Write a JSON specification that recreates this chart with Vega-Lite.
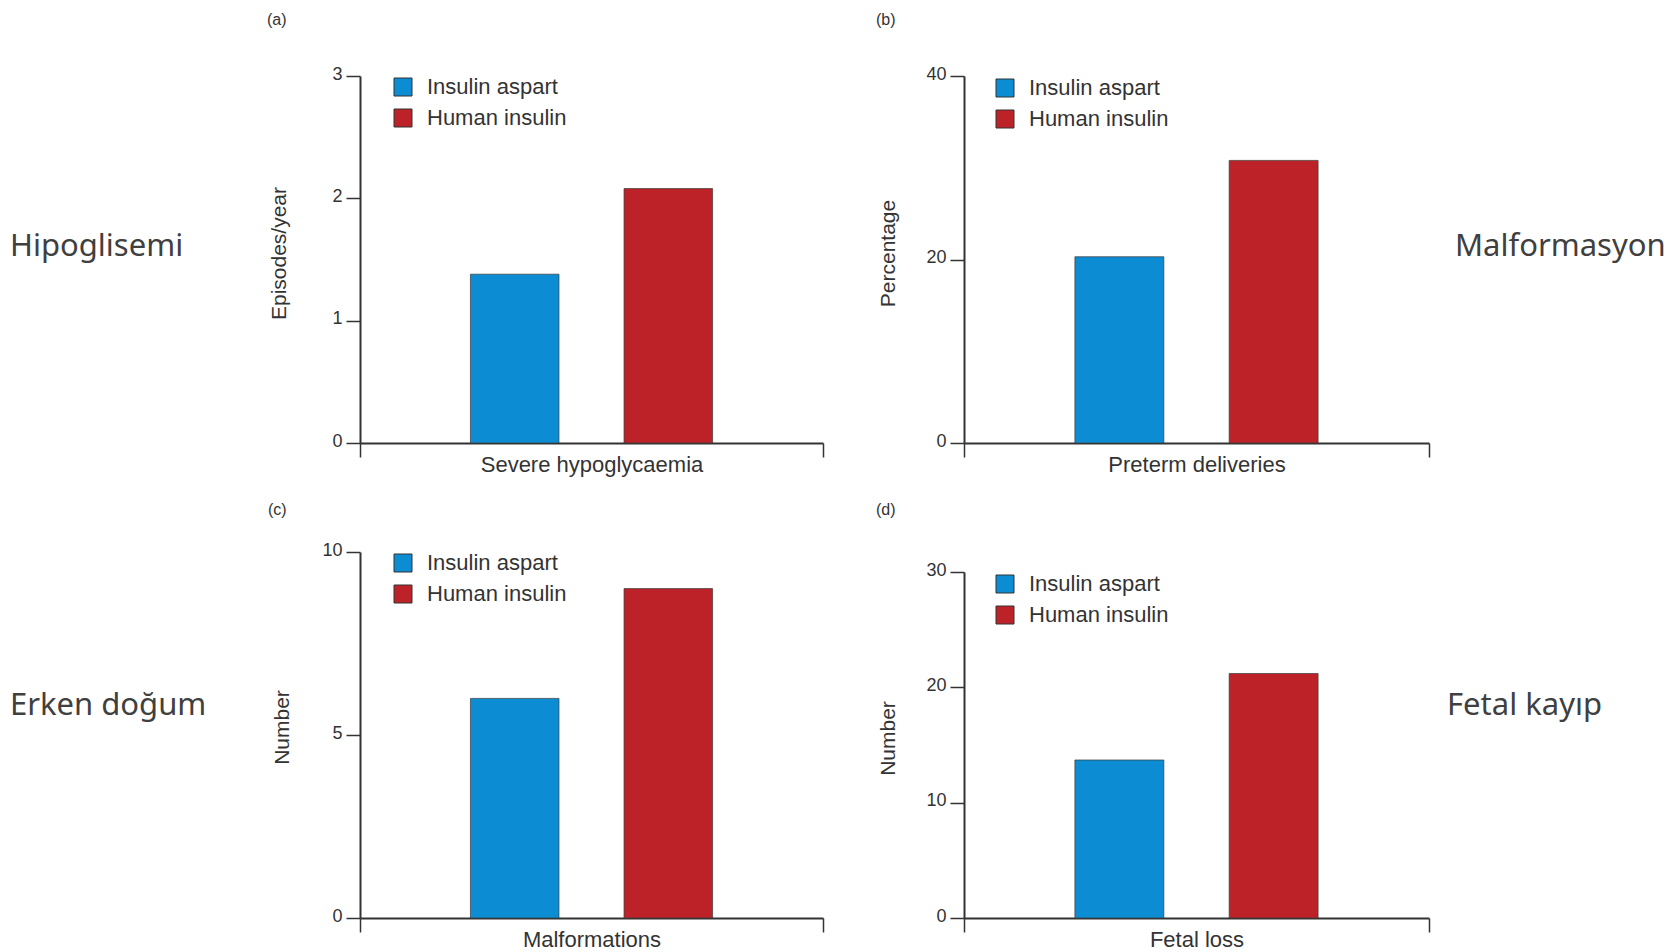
{
  "$schema": "https://vega.github.io/schema/vega-lite/v6.json",
  "background": "white",
  "padding": {"left": 10, "top": 12, "right": 5, "bottom": 5},
  "datasets": {
    "a": [
      {"outcome": "Severe hypoglycaemia", "treatment": "Insulin aspart", "value": 1.38},
      {"outcome": "Severe hypoglycaemia", "treatment": "Human insulin", "value": 2.08}
    ],
    "b": [
      {"outcome": "Preterm deliveries", "treatment": "Insulin aspart", "value": 20.3},
      {"outcome": "Preterm deliveries", "treatment": "Human insulin", "value": 30.8}
    ],
    "c": [
      {"outcome": "Malformations", "treatment": "Insulin aspart", "value": 6},
      {"outcome": "Malformations", "treatment": "Human insulin", "value": 9}
    ],
    "d": [
      {"outcome": "Fetal loss", "treatment": "Insulin aspart", "value": 13.7},
      {"outcome": "Fetal loss", "treatment": "Human insulin", "value": 21.2}
    ]
  },
  "columns": 4,
  "spacing": {"row": 109, "column": 26},
  "bounds": "flush",
  "align": "each",
  "concat": [
    {
      "width": 324, "height": 360,
      "data": {"values": [{"label": "Hipoglisemi"}]},
      "mark": {"type": "text", "align": "left", "baseline": "alphabetic", "font": "Noto Sans", "fontSize": 31, "color": "#404040"},
      "encoding": {
        "x": {"datum": 0, "type": "quantitative", "scale": {"domain": [0, 1]}, "axis": null},
        "text": {"field": "label", "type": "nominal"}
      }
    },
    {
      "width": 578, "height": 367,
      "title": {"text": "(a)", "anchor": "start", "frame": "group", "dx": -93, "offset": 37},
      "data": {"name": "a"},
      "mark": {"type": "bar", "stroke": "#3a3a3a", "strokeWidth": 1, "strokeOpacity": 0.7},
      "encoding": {
        "x": {"field": "outcome", "type": "nominal", "scale": {"range": [0, 463], "padding": 0},
              "axis": {"title": null, "labelAngle": 0, "tickBand": "extent", "tickSize": 14, "labelPadding": -3, "labelFontSize": 22, "labelBaseline": "top", "labelLimit": 0}},
        "xOffset": {"field": "treatment", "type": "nominal", "scale": {"domain": ["Insulin aspart", "Human insulin"], "paddingInner": 0.4235, "paddingOuter": 0.719}},
        "y": {"field": "value", "type": "quantitative", "scale": {"domain": [0, 3], "nice": false},
              "axis": {"title": "Episodes/year", "values": [0, 1, 2, 3], "titleX": -71, "titleY": 177}},
        "color": {"field": "treatment", "type": "nominal",
                  "scale": {"domain": ["Insulin aspart", "Human insulin"], "range": ["#0c8cd2", "#be2229"]},
                  "legend": {"title": null, "orient": "none", "legendX": 32, "legendY": 0}}
      }
    },
    {
      "width": 465, "height": 367,
      "title": {"text": "(b)", "anchor": "start", "frame": "group", "dx": -88, "offset": 37},
      "data": {"name": "b"},
      "mark": {"type": "bar", "stroke": "#3a3a3a", "strokeWidth": 1, "strokeOpacity": 0.7},
      "encoding": {
        "x": {"field": "outcome", "type": "nominal", "scale": {"padding": 0},
              "axis": {"title": null, "labelAngle": 0, "tickBand": "extent", "tickSize": 14, "labelPadding": -3, "labelFontSize": 22, "labelBaseline": "top", "labelLimit": 0}},
        "xOffset": {"field": "treatment", "type": "nominal", "scale": {"domain": ["Insulin aspart", "Human insulin"], "paddingInner": 0.4235, "paddingOuter": 0.719}},
        "y": {"field": "value", "type": "quantitative", "scale": {"domain": [0, 40], "nice": false},
              "axis": {"title": "Percentage", "values": [0, 20, 40], "titleX": -66, "titleY": 177}},
        "color": {"field": "treatment", "type": "nominal",
                  "scale": {"domain": ["Insulin aspart", "Human insulin"], "range": ["#0c8cd2", "#be2229"]},
                  "legend": {"title": null, "orient": "none", "legendX": 30, "legendY": 1}}
      }
    },
    {
      "width": 220, "height": 360,
      "data": {"values": [{"label": "Malformasyon"}]},
      "mark": {"type": "text", "align": "left", "baseline": "alphabetic", "font": "Noto Sans", "fontSize": 31, "color": "#404040"},
      "encoding": {
        "x": {"datum": 0, "type": "quantitative", "scale": {"domain": [0, 1]}, "axis": null},
        "text": {"field": "label", "type": "nominal"}
      }
    },
    {
      "width": 324, "height": 326,
      "data": {"values": [{"label": "Erken doğum"}]},
      "mark": {"type": "text", "align": "left", "baseline": "alphabetic", "font": "Noto Sans", "fontSize": 31, "color": "#404040"},
      "encoding": {
        "x": {"datum": 0, "type": "quantitative", "scale": {"domain": [0, 1]}, "axis": null},
        "text": {"field": "label", "type": "nominal"}
      }
    },
    {
      "width": 578, "height": 366,
      "title": {"text": "(c)", "anchor": "start", "frame": "group", "dx": -92, "offset": 23},
      "data": {"name": "c"},
      "mark": {"type": "bar", "stroke": "#3a3a3a", "strokeWidth": 1, "strokeOpacity": 0.7},
      "encoding": {
        "x": {"field": "outcome", "type": "nominal", "scale": {"range": [0, 463], "padding": 0},
              "axis": {"title": null, "labelAngle": 0, "tickBand": "extent", "tickSize": 14, "labelPadding": -3, "labelFontSize": 22, "labelBaseline": "top", "labelLimit": 0}},
        "xOffset": {"field": "treatment", "type": "nominal", "scale": {"domain": ["Insulin aspart", "Human insulin"], "paddingInner": 0.4235, "paddingOuter": 0.719}},
        "y": {"field": "value", "type": "quantitative", "scale": {"domain": [0, 10], "nice": false},
              "axis": {"title": "Number", "values": [0, 5, 10], "titleX": -68, "titleY": 175}},
        "color": {"field": "treatment", "type": "nominal",
                  "scale": {"domain": ["Insulin aspart", "Human insulin"], "range": ["#0c8cd2", "#be2229"]},
                  "legend": {"title": null, "orient": "none", "legendX": 32, "legendY": 0}}
      }
    },
    {
      "width": 465, "height": 366,
      "title": {"text": "(d)", "anchor": "start", "frame": "group", "dx": -88, "offset": 34},
      "data": {"name": "d"},
      "mark": {"type": "bar", "stroke": "#3a3a3a", "strokeWidth": 1, "strokeOpacity": 0.7},
      "encoding": {
        "x": {"field": "outcome", "type": "nominal", "scale": {"padding": 0},
              "axis": {"title": null, "labelAngle": 0, "tickBand": "extent", "tickSize": 14, "labelPadding": -3, "labelFontSize": 22, "labelBaseline": "top", "labelLimit": 0}},
        "xOffset": {"field": "treatment", "type": "nominal", "scale": {"domain": ["Insulin aspart", "Human insulin"], "paddingInner": 0.4235, "paddingOuter": 0.719}},
        "y": {"field": "value", "type": "quantitative", "scale": {"domain": [0, 30], "nice": false, "range": [366, 20]},
              "axis": {"title": "Number", "values": [0, 10, 20, 30], "titleX": -66, "titleY": 186}},
        "color": {"field": "treatment", "type": "nominal",
                  "scale": {"domain": ["Insulin aspart", "Human insulin"], "range": ["#0c8cd2", "#be2229"]},
                  "legend": {"title": null, "orient": "none", "legendX": 30, "legendY": 21}}
      }
    },
    {
      "width": 220, "height": 326,
      "data": {"values": [{"label": "Fetal kayıp"}]},
      "mark": {"type": "text", "align": "left", "baseline": "alphabetic", "font": "Noto Sans", "fontSize": 31, "color": "#404040", "dx": -8},
      "encoding": {
        "x": {"datum": 0, "type": "quantitative", "scale": {"domain": [0, 1]}, "axis": null},
        "text": {"field": "label", "type": "nominal"}
      }
    }
  ],
  "resolve": {
    "scale": {"x": "independent", "y": "independent", "xOffset": "independent", "color": "independent"},
    "legend": {"color": "independent"}
  },
  "config": {
    "view": {"stroke": null},
    "title": {"font": "Liberation Sans", "fontSize": 16, "fontWeight": "normal", "color": "#333333"},
    "axis": {
      "grid": false,
      "domainColor": "#333333", "domainWidth": 2,
      "tickColor": "#333333", "tickWidth": 1.5,
      "labelFont": "Liberation Sans", "labelColor": "#333333",
      "titleFont": "Liberation Sans", "titleColor": "#333333", "titleFontWeight": "normal", "titleFontSize": 21
    },
    "axisY": {
      "tickSize": 14, "labelPadding": 4, "labelFontSize": 18,
      "labelBaseline": "alphabetic", "labelOffset": 3, "titleBaseline": "bottom", "titleAngle": -90
    },
    "legend": {
      "symbolType": "square", "symbolSize": 324,
      "symbolStrokeColor": "#333333", "symbolStrokeWidth": 1,
      "labelFont": "Liberation Sans", "labelFontSize": 22, "labelColor": "#333333",
      "labelOffset": 13, "rowPadding": 9, "padding": 0
    }
  }
}
